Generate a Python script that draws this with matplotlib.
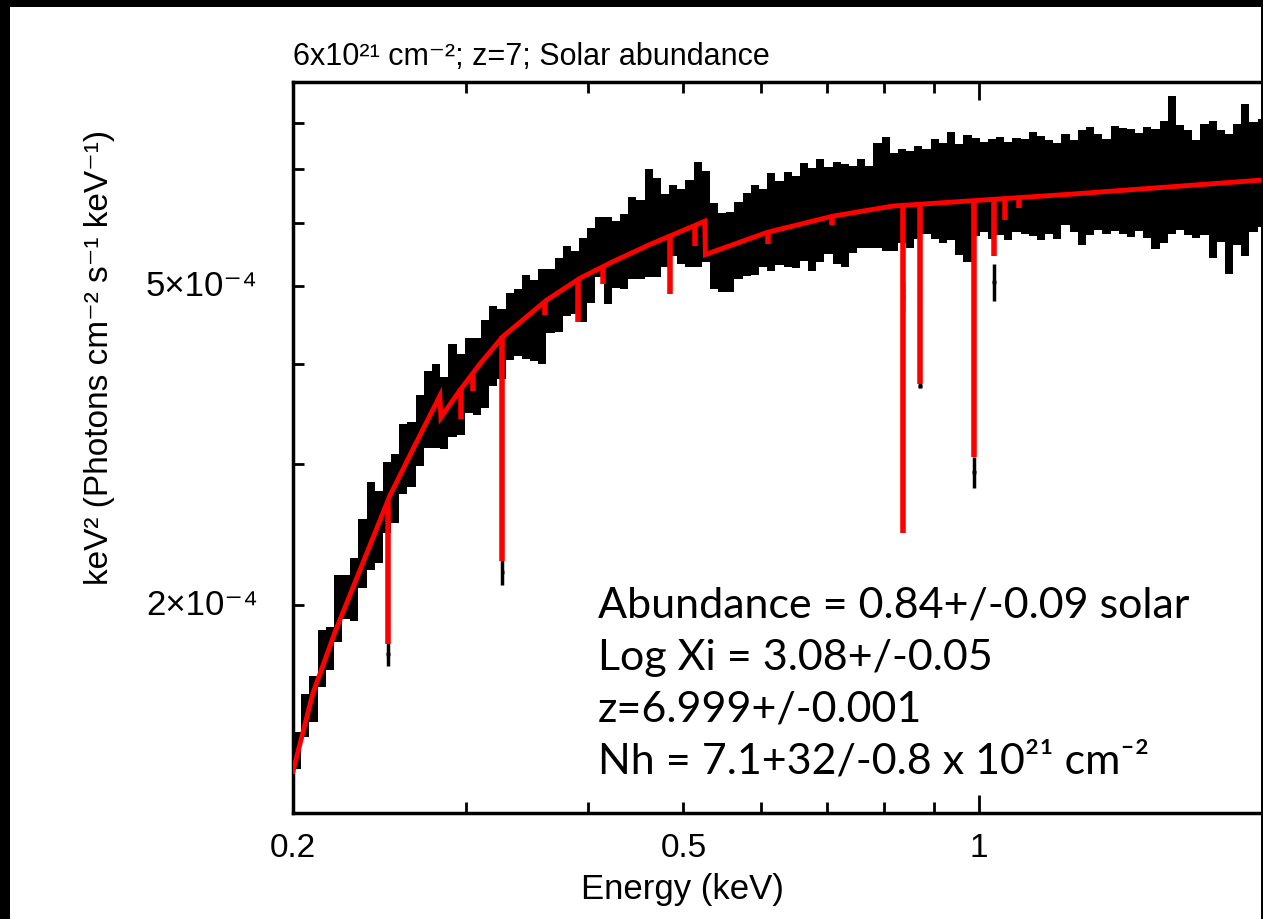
import matplotlib
matplotlib.use("Agg")
import matplotlib.pyplot as plt
import numpy as np
from matplotlib.patches import Rectangle
from matplotlib.ticker import FixedLocator, NullFormatter

# binned spectrum: log-spaced energy bins (keV), flux in units of 1e-4
E_LO, E_HI, N_BINS = 0.2, 2.0, 120
SCALE = 1e-4

flux = [
    1.32, 1.46, 1.53, 1.72, 1.77, 1.99, 2.05, 2.10, 2.33, 2.53,
    2.52, 2.74, 2.81, 3.06, 3.10, 3.32, 3.53, 3.57, 3.49, 3.74,
    3.69, 3.89, 3.88, 4.03, 4.24, 4.26, 4.48, 4.53, 4.61, 4.57,
    4.63, 4.81, 4.91, 5.10, 5.08, 5.13, 5.34, 5.62, 5.43, 5.51,
    5.56, 5.79, 5.76, 6.07, 5.98, 5.91, 6.08, 5.98, 6.04, 6.22,
    6.17, 5.66, 5.55, 5.56, 5.74, 5.85, 5.93, 5.95, 6.07, 6.04,
    6.11, 6.07, 6.26, 6.13, 6.29, 6.27, 6.25, 6.20, 6.29, 6.40,
    6.32, 6.57, 6.61, 6.43, 6.54, 6.49, 6.61, 6.62, 6.69, 6.61,
    6.75, 6.51, 6.55, 6.72, 6.71, 6.69, 6.74, 6.64, 6.75, 6.73,
    6.79, 6.71, 6.72, 6.64, 6.86, 6.73, 6.73, 6.85, 6.82, 6.73,
    6.89, 6.85, 6.81, 6.82, 6.82, 6.71, 6.85, 7.23, 6.92, 6.82,
    6.68, 6.88, 6.74, 6.76, 6.47, 6.80, 6.95, 6.93, 7.01, 6.91,
]
flux_err = [
    0.07, 0.09, 0.10, 0.14, 0.11, 0.19, 0.13, 0.19, 0.23, 0.32,
    0.26, 0.28, 0.28, 0.31, 0.29, 0.34, 0.39, 0.43, 0.36, 0.50,
    0.43, 0.42, 0.43, 0.51, 0.49, 0.43, 0.43, 0.44, 0.55, 0.53,
    0.63, 0.44, 0.52, 0.51, 0.46, 0.61, 0.57, 0.49, 0.67, 0.53,
    0.60, 0.68, 0.65, 0.93, 0.84, 0.62, 0.62, 0.64, 0.75, 0.93,
    0.80, 0.70, 0.63, 0.64, 0.63, 0.70, 0.77, 0.66, 0.85, 0.73,
    0.83, 0.80, 0.88, 0.90, 0.92, 0.78, 0.91, 0.91, 0.78, 0.81,
    0.74, 0.99, 1.08, 0.90, 0.88, 0.90, 0.88, 0.81, 0.96, 0.95,
    1.04, 1.03, 1.18, 0.94, 0.87, 0.96, 0.95, 0.93, 0.91, 0.91,
    1.01, 1.00, 0.90, 0.91, 0.89, 0.89, 1.10, 1.06, 0.94, 0.91,
    1.03, 1.04, 1.05, 0.96, 1.08, 1.15, 1.19, 1.42, 1.04, 1.03,
    0.94, 1.09, 1.31, 1.08, 1.29, 1.17, 1.50, 1.09, 1.08, 1.09,
]

# narrow bins that fall inside the strongest absorption lines
dip_E = [0.250, 0.327, 0.837, 0.871, 0.989, 1.037]
dip_flux = [1.74, 2.20, 4.86, 3.76, 2.93, 5.06]
dip_err = [0.06, 0.08, 0.20, 0.03, 0.13, 0.27]

# best-fit continuum (with the two edges)
model_E = [0.200, 0.2095, 0.2207, 0.234, 0.2511, 0.2650, 0.2823, 0.2830,
           0.2960, 0.3101, 0.3274, 0.3630, 0.3924, 0.4239, 0.4622, 0.5257,
           0.5265, 0.6086, 0.7103, 0.8175, 1.2443, 1.949, 2.0]
model_flux = [1.24, 1.55, 1.85, 2.21, 2.74, 3.13, 3.65, 3.43,
              3.71, 4.00, 4.33, 4.81, 5.12, 5.37, 5.64, 6.03,
              5.48, 5.84, 6.12, 6.30, 6.52, 6.79, 6.81]

# absorption lines of the model: energy, continuum level, line bottom
line_E = [0.250, 0.297, 0.305, 0.327, 0.361, 0.390, 0.414, 0.485, 0.514,
          0.610, 0.709, 0.837, 0.871, 0.989, 1.037, 1.064, 1.100]
line_top = [2.70, 3.73, 3.88, 4.33, 4.79, 5.09, 5.30, 5.78, 5.94,
            5.84, 6.11, 6.31, 6.33, 6.40, 6.42, 6.43, 6.45]
line_bottom = [1.79, 3.42, 3.70, 2.27, 4.60, 4.51, 5.04, 4.89, 5.62,
               5.65, 5.96, 2.46, 3.78, 3.06, 5.46, 6.05, 6.27]

x_labels = [0.2, 0.5, 1]
y_labels = [(2e-4, "2×10⁻⁴"), (5e-4, "5×10⁻⁴")]

W, H = 1263, 919
HELV = ["Liberation Sans", "DejaVu Sans"]
CAL = ["Lato", "DejaVu Sans"]

fig = plt.figure(figsize=(W / 100, H / 100), dpi=100, facecolor="white")
ax = fig.add_axes([293 / W, 1 - 813 / H, 981 / W, (813 - 82) / H])

edges = np.geomspace(E_LO, E_HI, N_BINS + 1)
f = np.array(flux) * SCALE
e = np.array(flux_err) * SCALE
ax.bar(edges[:-1], 2 * e, bottom=f - e, width=np.diff(edges), align="edge",
       color="black", linewidth=0, zorder=2)

dE = np.array(dip_E)
ax.errorbar(dE, np.array(dip_flux) * SCALE, yerr=np.array(dip_err) * SCALE,
            xerr=dE * 0.004, fmt="none", ecolor="black", elinewidth=2.5,
            capsize=0, zorder=3)

ax.plot(model_E, np.array(model_flux) * SCALE, color="#ff0000", lw=3.5,
        solid_joinstyle="miter", zorder=4)
ax.vlines(line_E, np.array(line_bottom) * SCALE, np.array(line_top) * SCALE,
          color="#ff0000", lw=4, zorder=4)

ax.set_xscale("log")
ax.set_yscale("log")
ax.set_xlim(E_LO, E_HI)
ax.set_ylim(1.10e-4, 9.0e-4)

ax.xaxis.set_major_locator(FixedLocator([1.0]))
ax.xaxis.set_minor_locator(FixedLocator([0.3, 0.4, 0.5, 0.6, 0.7, 0.8, 0.9]))
ax.yaxis.set_major_locator(FixedLocator([1e-4, 1e-3]))
ax.yaxis.set_minor_locator(FixedLocator([k * 1e-4 for k in range(2, 10)]))
for axis in (ax.xaxis, ax.yaxis):
    axis.set_major_formatter(NullFormatter())
    axis.set_minor_formatter(NullFormatter())
ax.tick_params(which="both", direction="in", top=True, right=True,
               width=2, color="black")
ax.tick_params(which="major", length=13)
ax.tick_params(which="minor", length=8)
for sp in ax.spines.values():
    sp.set_linewidth(2.5)

for xv in x_labels:
    ax.text(xv, -0.028, f"{xv:g}", transform=ax.get_xaxis_transform(),
            ha="center", va="top", fontsize=24, family=HELV)
for yv, lab in y_labels:
    ax.text(-0.036, yv, lab, transform=ax.get_yaxis_transform(),
            ha="right", va="center", fontsize=25, family=HELV)

fig.text(682 / W, 1 - 890 / H, "Energy (keV)", ha="center", va="center",
         fontsize=25, family=HELV)
fig.text(100 / W, 1 - 357 / H, "keV² (Photons cm⁻² s⁻¹ keV⁻¹)", rotation=90,
         ha="center", va="center", fontsize=24, family=HELV)
fig.text(293 / W, 1 - 57 / H, "6x10²¹ cm⁻²; z=7; Solar abundance",
         ha="left", va="center", fontsize=22, family=HELV)

notes = ["Abundance = 0.84+/-0.09 solar", "Log Xi = 3.08+/-0.05",
         "z=6.999+/-0.001", "Nh = 7.1+32/-0.8 x 10²¹ cm⁻²"]
for k, line in enumerate(notes):
    fig.text(598 / W, 1 - (606 + 52 * k) / H, line, ha="left", va="center",
             fontsize=31, family=CAL)

# black slide border on top, left and right
for x0, y0, w, h in [(0, H - 7, W, 7), (0, 0, 10, H), (W - 2, 0, 2, H)]:
    fig.add_artist(Rectangle((x0 / W, y0 / H), w / W, h / H,
                             transform=fig.transFigure, color="black", lw=0))

fig.savefig("out.png", dpi=100, facecolor="white")
